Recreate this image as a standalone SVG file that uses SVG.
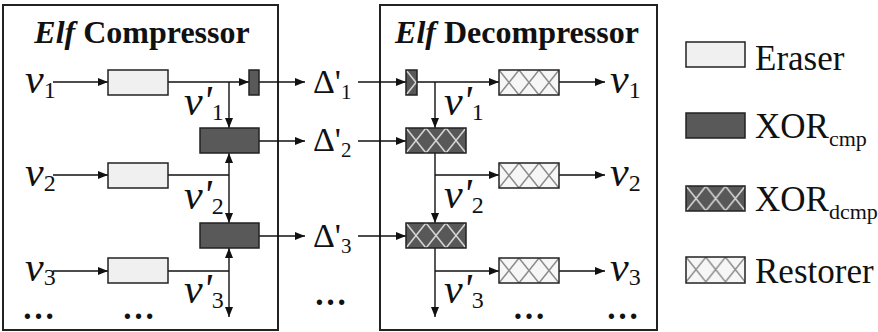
<svg xmlns="http://www.w3.org/2000/svg" width="878" height="332" viewBox="0 0 878 332">
<style>
.frame{fill:#fff;stroke:#222;stroke-width:2}
.box{stroke:#222;stroke-width:1.5}
.eraser{fill:#f0f0f0}
.xcmp{fill:#595959}
.xdcmp{fill:url(#hatchDark)}
.rest{fill:url(#hatchLight)}
.conn path{fill:none;stroke:#111;stroke-width:1.4}
.arr{marker-end:url(#ah)}
.t{font-family:"Liberation Serif","Times New Roman",Tinos,"Noto Serif","DejaVu Serif",serif;fill:#111}
.title{font-size:32px;font-weight:bold;text-anchor:middle}
.v{font-size:42px;font-style:italic}
.sub{font-size:24px;font-style:normal}
.d{font-size:34px}
.dsub{font-size:21px}
.dots{font-size:33px;font-weight:bold;text-anchor:middle}
.leg{font-size:35px}
.lsub{font-size:22px}
</style>
<defs>
<marker id="ah" markerUnits="userSpaceOnUse" markerWidth="11" markerHeight="9" refX="10" refY="4" orient="auto">
<path d="M0,0 L10,4 L0,8 z" fill="#111"/>
</marker>
<pattern id="hatchLight" patternUnits="objectBoundingBox" width="0.33333" height="1" patternContentUnits="userSpaceOnUse">
<rect width="20" height="25" fill="#f6f6f6"/>
<path d="M0,0 L20,25 M20,0 L0,25" stroke="#8c8c8c" stroke-width="1.5"/>
</pattern>
<pattern id="hatchDark" patternUnits="objectBoundingBox" width="0.33333" height="1" patternContentUnits="userSpaceOnUse">
<rect width="20" height="25" fill="#585858"/>
<path d="M0,0 L20,25 M20,0 L0,25" stroke="#d4d4d4" stroke-width="1.6"/>
</pattern>
<pattern id="hatchDarkSmall" patternUnits="userSpaceOnUse" x="406" y="70" width="20" height="25">
<rect width="20" height="25" fill="#585858"/>
<path d="M0,0 L20,25 M20,0 L0,25" stroke="#d4d4d4" stroke-width="1.6"/>
</pattern>
</defs>
<rect width="878" height="332" fill="#fff"/>

<g id="compressor">
<rect class="frame" x="3" y="5" width="275" height="325"/>
<text class="t title" x="142" y="43"><tspan font-style="italic">Elf</tspan> Compressor</text>
</g>
<g id="decompressor">
<rect class="frame" x="380" y="5" width="277" height="325"/>
<text class="t title" x="517" y="43"><tspan font-style="italic">Elf</tspan> Decompressor</text>
</g>

<g id="connectors" class="conn">
<path class="arr" d="M53,82 H108"/>
<path class="arr" d="M168,82 H249"/>
<path class="arr" d="M229,82 V128"/>
<path class="arr" d="M259,82 H305"/>
<path class="arr" d="M259,141 H305"/>
<path class="arr" d="M53,175 H108"/>
<path d="M168,175 H229"/>
<path class="arr" d="M229,175 V153"/>
<path class="arr" d="M229,175 V223"/>
<path class="arr" d="M259,236 H305"/>
<path class="arr" d="M53,271 H108"/>
<path d="M168,271 H229"/>
<path class="arr" d="M229,271 V248"/>
<path class="arr" d="M229,271 V317"/>
<path class="arr" d="M358,82 H406"/>
<path class="arr" d="M417,82 H499"/>
<path class="arr" d="M435,82 V128"/>
<path class="arr" d="M559,82 H605"/>
<path class="arr" d="M358,141 H406"/>
<path class="arr" d="M435,153 V223"/>
<path class="arr" d="M435,175 H499"/>
<path class="arr" d="M559,175 H605"/>
<path class="arr" d="M358,236 H406"/>
<path class="arr" d="M435,248 V317"/>
<path class="arr" d="M435,271 H499"/>
<path class="arr" d="M559,271 H605"/>
</g>

<g id="eraser1"><rect class="box eraser" x="108" y="70" width="60" height="25"/></g>
<g id="eraser2"><rect class="box eraser" x="108" y="163" width="60" height="25"/></g>
<g id="eraser3"><rect class="box eraser" x="108" y="258" width="60" height="25"/></g>
<g id="xorcmp0"><rect class="box xcmp" x="249" y="70" width="10" height="25"/></g>
<g id="xorcmp1"><rect class="box xcmp" x="200" y="128" width="59" height="25"/></g>
<g id="xorcmp2"><rect class="box xcmp" x="200" y="223" width="59" height="25"/></g>

<g id="xordcmp0"><rect class="box" fill="url(#hatchDarkSmall)" x="406" y="70" width="11" height="25"/></g>
<g id="xordcmp1"><rect class="box xdcmp" x="406" y="128" width="60" height="25"/></g>
<g id="xordcmp2"><rect class="box xdcmp" x="406" y="223" width="60" height="25"/></g>
<g id="restorer1"><rect class="box rest" x="499" y="70" width="60" height="25"/></g>
<g id="restorer2"><rect class="box rest" x="499" y="163" width="60" height="25"/></g>
<g id="restorer3"><rect class="box rest" x="499" y="258" width="60" height="25"/></g>

<g id="labels">
<text class="t v" x="25" y="93">v<tspan class="sub" dy="5">1</tspan></text>
<text class="t v" x="25" y="186">v<tspan class="sub" dy="5">2</tspan></text>
<text class="t v" x="25" y="281">v<tspan class="sub" dy="4">3</tspan></text>
<text class="t v" x="184" y="115">v'<tspan class="sub" dy="5">1</tspan></text>
<text class="t v" x="184" y="209">v'<tspan class="sub" dy="5">2</tspan></text>
<text class="t v" x="184" y="303">v'<tspan class="sub" dy="5">3</tspan></text>
<text class="t v" x="444" y="115">v'<tspan class="sub" dy="5">1</tspan></text>
<text class="t v" x="444" y="208">v'<tspan class="sub" dy="5">2</tspan></text>
<text class="t v" x="444" y="303">v'<tspan class="sub" dy="5">3</tspan></text>
<text class="t v" x="610" y="93">v<tspan class="sub" dy="5">1</tspan></text>
<text class="t v" x="610" y="186">v<tspan class="sub" dy="5">2</tspan></text>
<text class="t v" x="610" y="281">v<tspan class="sub" dy="4">3</tspan></text>
<text class="t d" x="313" y="93">Δ'<tspan class="dsub" dy="6">1</tspan></text>
<text class="t d" x="313" y="151">Δ'<tspan class="dsub" dy="6">2</tspan></text>
<text class="t d" x="313" y="247">Δ'<tspan class="dsub" dy="6">3</tspan></text>
<text class="t dots" x="38.5" y="319">…</text>
<text class="t dots" x="138.5" y="319">…</text>
<text class="t dots" x="330.5" y="305">…</text>
<text class="t dots" x="529" y="319">…</text>
<text class="t dots" x="622.5" y="319">…</text>
</g>

<g id="legend-eraser">
<rect class="box eraser" x="686" y="42" width="59" height="25"/>
<text class="t leg" x="755" y="70">Eraser</text>
</g>
<g id="legend-xorcmp">
<rect class="box xcmp" x="686" y="113" width="59" height="25"/>
<text class="t leg" x="755" y="138">XOR<tspan class="lsub" dy="8">cmp</tspan></text>
</g>
<g id="legend-xordcmp">
<rect class="box xdcmp" x="686" y="186" width="59" height="25"/>
<text class="t leg" x="755" y="211">XOR<tspan class="lsub" dy="8">dcmp</tspan></text>
</g>
<g id="legend-restorer">
<rect class="box rest" x="686" y="257" width="59" height="26"/>
<text class="t leg" x="755" y="283">Restorer</text>
</g>
</svg>
